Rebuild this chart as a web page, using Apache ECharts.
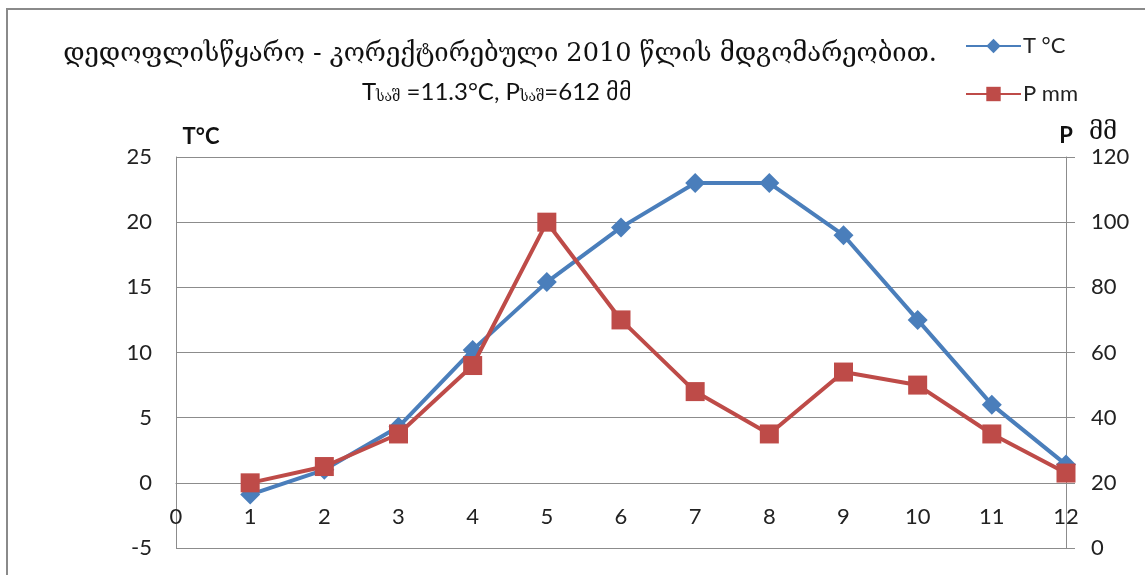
<!DOCTYPE html>
<html>
<head>
<meta charset="utf-8">
<script src="https://cdn.jsdelivr.net/npm/echarts@6/dist/echarts.min.js"></script>
<style>
  html, body { margin: 0; padding: 0; background: #fff; }
  #chart { width: 1145px; height: 575px; }
</style>
</head>
<body>
<div id="chart"></div>
<script>
// Months of the year
const months = [1, 2, 3, 4, 5, 6, 7, 8, 9, 10, 11, 12];
// Mean monthly air temperature, °C
const temperature = [-0.9, 1.0, 4.3, 10.2, 15.4, 19.6, 23.0, 23.0, 19.0, 12.5, 6.0, 1.4];
// Monthly precipitation, mm
const precipitation = [20, 25, 35, 56, 100, 70, 48, 35, 54, 50, 35, 23];

const titleText = 'დედოფლისწყარო - კორექტირებული 2010 წლის მდგომარეობით.';
const seriesNames = ['T °C', 'P mm'];

const numFont = 'Lato, "Open Sans", sans-serif';
const geoFont = '"DejaVu Serif", "DejaVu Sans", serif';
const gridColor = '#8c8c8c';

const gridTop = 157, gridBottom = 27, chartH = 575;
// temperature axis range, used to place the month axis on the T = 0 line
const tMin = -5, tMax = 25;
const plotH = chartH - gridTop - gridBottom;
const zeroOffset = -plotH * (0 - tMin) / (tMax - tMin);

const chart = echarts.init(document.getElementById('chart'), null, { renderer: 'canvas' });

chart.setOption({
  backgroundColor: '#ffffff',
  animation: false,
  grid: { left: 176, right: 79, top: gridTop, bottom: gridBottom, containLabel: false },
  legend: {
    orient: 'vertical',
    left: 965,
    top: 35,
    padding: 0,
    itemWidth: 55,
    itemHeight: 18,
    itemGap: 26,
    textStyle: { fontFamily: numFont, fontSize: 22, color: '#222', padding: [0, 0, 0, -3] },
    data: seriesNames
  },
  xAxis: {
    type: 'value',
    position: 'bottom',
    offset: zeroOffset,
    min: 0,
    max: 12,
    interval: 1,
    axisLine: { onZero: false, lineStyle: { color: gridColor, width: 1 } },
    axisTick: { show: false },
    splitLine: { show: false },
    axisLabel: { margin: 23, fontFamily: numFont, fontSize: 22, color: '#222' }
  },
  yAxis: [
    {
      type: 'value',
      min: tMin,
      max: tMax,
      interval: 5,
      axisLine: { show: true, lineStyle: { color: gridColor, width: 1 } },
      axisTick: { show: false },
      splitLine: { show: true, lineStyle: { color: gridColor, width: 1 } },
      axisLabel: { margin: 24, fontFamily: numFont, fontSize: 22, color: '#222' }
    },
    {
      type: 'value',
      position: 'right',
      min: 0,
      max: 120,
      interval: 20,
      axisLine: { show: true, lineStyle: { color: gridColor, width: 1 } },
      axisTick: { show: true, inside: false, length: 9, lineStyle: { color: gridColor } },
      splitLine: { show: false },
      axisLabel: { margin: 25, fontFamily: numFont, fontSize: 22, color: '#222' }
    }
  ],
  series: [
    {
      name: seriesNames[0],
      type: 'line',
      yAxisIndex: 0,
      data: months.map((m, i) => [m, temperature[i]]),
      symbol: 'diamond',
      symbolSize: 20,
      lineStyle: { color: '#4a7ebb', width: 4 },
      itemStyle: { color: '#4a7ebb' },
      z: 2
    },
    {
      name: seriesNames[1],
      type: 'line',
      yAxisIndex: 1,
      data: months.map((m, i) => [m, precipitation[i]]),
      symbol: 'rect',
      symbolSize: 19,
      lineStyle: { color: '#be4b48', width: 4 },
      itemStyle: { color: '#be4b48' },
      z: 3
    }
  ],
  graphic: [
    // chart area frame
    {
      type: 'rect',
      shape: { x: 7, y: 9, width: 1200, height: 700 },
      style: { fill: 'none', stroke: '#8a8a8a', lineWidth: 2 },
      silent: true,
      z: -10
    },
    {
      type: 'text',
      x: 500, y: 54,
      style: {
        text: titleText,
        font: '25.6px ' + geoFont,
        fill: '#111',
        textAlign: 'center',
        textVerticalAlign: 'middle'
      }
    },
    {
      type: 'text',
      x: 497, y: 90,
      style: {
        text: '{n|T}{s|საშ}{n| =11.3°C, P}{s|საშ}{n|=612 მმ}',
        textAlign: 'center',
        textVerticalAlign: 'middle',
        rich: {
          n: { fontFamily: numFont, fontSize: 24, fill: '#111', color: '#111', verticalAlign: 'bottom', lineHeight: 28 },
          s: { fontFamily: geoFont, fontSize: 14, fill: '#111', color: '#111', verticalAlign: 'bottom', lineHeight: 22 }
        }
      }
    },
    {
      type: 'text',
      x: 201, y: 137,
      style: {
        text: 'T°C',
        font: 'bold 22px ' + numFont,
        fill: '#111',
        textAlign: 'center',
        textVerticalAlign: 'middle'
      }
    },
    {
      type: 'text',
      x: 1066, y: 136,
      style: {
        text: 'P',
        font: 'bold 22px ' + numFont,
        fill: '#111',
        textAlign: 'center',
        textVerticalAlign: 'middle'
      }
    },
    {
      type: 'text',
      x: 1103, y: 133,
      style: {
        text: 'მმ',
        font: '24px ' + geoFont,
        fill: '#111',
        textAlign: 'center',
        textVerticalAlign: 'middle'
      }
    }
  ]
});
</script>
</body>
</html>
